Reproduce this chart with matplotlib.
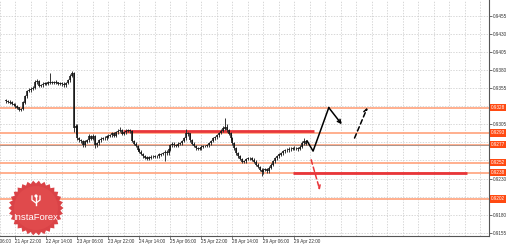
import numpy as np
import matplotlib
matplotlib.use("Agg")
import matplotlib.pyplot as plt
from matplotlib.patches import Polygon

plt.rcParams['font.family'] = ['Liberation Sans', 'DejaVu Sans']

# hourly bars, index 0 = 21 Apr 22:00, first visible bar at -5
first_bar = -5
first_open = 0.9338
close = [0.9337, 0.9336, 0.9335, 0.9333, 0.9332, 0.9330, 0.9328, 0.9325, 0.9326, 0.9335,
         0.9344, 0.9351, 0.9352, 0.9354, 0.9355, 0.9363, 0.9365, 0.9358, 0.9359, 0.9361,
         0.9362, 0.9361, 0.9363, 0.9362, 0.9363, 0.9362, 0.9363, 0.9361, 0.9362, 0.9361,
         0.9359, 0.9362, 0.9366, 0.9372, 0.9375, 0.9300, 0.9303, 0.9286, 0.9283, 0.9282,
         0.9276, 0.9281, 0.9283, 0.9288, 0.9285, 0.9289, 0.9276, 0.9279, 0.9283, 0.9285,
         0.9286, 0.9286, 0.9288, 0.9289, 0.9290, 0.9292, 0.9289, 0.9294, 0.9296, 0.9297,
         0.9292, 0.9294, 0.9296, 0.9297, 0.9296, 0.9282, 0.9278, 0.9275, 0.9270, 0.9267,
         0.9264, 0.9261, 0.9259, 0.9257, 0.9259, 0.9260, 0.9260, 0.9261, 0.9261, 0.9263,
         0.9264, 0.9265, 0.9267, 0.9265, 0.9270, 0.9276, 0.9278, 0.9276, 0.9275, 0.9278,
         0.9279, 0.9282, 0.9286, 0.9293, 0.9292, 0.9283, 0.9278, 0.9275, 0.9272, 0.9271,
         0.9272, 0.9274, 0.9275, 0.9275, 0.9276, 0.9279, 0.9282, 0.9286, 0.9287, 0.9290,
         0.9293, 0.9296, 0.9299, 0.9301, 0.9297, 0.9292, 0.9286, 0.9279, 0.9272, 0.9265,
         0.9261, 0.9257, 0.9253, 0.9254, 0.9257, 0.9258, 0.9258, 0.9256, 0.9253, 0.9249,
         0.9246, 0.9242, 0.9239, 0.9242, 0.9243, 0.9240, 0.9245, 0.9249, 0.9254, 0.9258,
         0.9261, 0.9263, 0.9265, 0.9268, 0.9269, 0.9269, 0.9271, 0.9271, 0.9272, 0.9272,
         0.9272, 0.9271, 0.9274, 0.9279, 0.9282, 0.9278]
high = [0.9340, 0.9339, 0.9338, 0.9337, 0.9335, 0.9334, 0.9332, 0.9329, 0.9328, 0.9337,
        0.9346, 0.9353, 0.9355, 0.9356, 0.9358, 0.9366, 0.9367, 0.9366, 0.9361, 0.9363,
        0.9364, 0.9364, 0.9365, 0.9376, 0.9365, 0.9365, 0.9366, 0.9364, 0.9364, 0.9364,
        0.9363, 0.9364, 0.9368, 0.9374, 0.9378, 0.9377, 0.9306, 0.9305, 0.9288, 0.9285,
        0.9284, 0.9283, 0.9285, 0.9291, 0.9290, 0.9291, 0.9290, 0.9281, 0.9285, 0.9287,
        0.9288, 0.9289, 0.9290, 0.9291, 0.9292, 0.9294, 0.9294, 0.9296, 0.9299, 0.9301,
        0.9299, 0.9296, 0.9298, 0.9299, 0.9299, 0.9297, 0.9284, 0.9280, 0.9277, 0.9272,
        0.9269, 0.9266, 0.9263, 0.9261, 0.9261, 0.9262, 0.9262, 0.9263, 0.9263, 0.9265,
        0.9266, 0.9267, 0.9269, 0.9269, 0.9272, 0.9278, 0.9280, 0.9280, 0.9278, 0.9280,
        0.9281, 0.9284, 0.9288, 0.9298, 0.9295, 0.9293, 0.9285, 0.9280, 0.9277, 0.9274,
        0.9274, 0.9276, 0.9277, 0.9277, 0.9278, 0.9281, 0.9284, 0.9288, 0.9289, 0.9292,
        0.9295, 0.9298, 0.9302, 0.9314, 0.9305, 0.9299, 0.9294, 0.9288, 0.9281, 0.9274,
        0.9267, 0.9263, 0.9259, 0.9256, 0.9259, 0.9260, 0.9260, 0.9260, 0.9258, 0.9255,
        0.9251, 0.9248, 0.9244, 0.9244, 0.9245, 0.9245, 0.9247, 0.9251, 0.9256, 0.9260,
        0.9263, 0.9265, 0.9267, 0.9270, 0.9271, 0.9272, 0.9273, 0.9273, 0.9274, 0.9275,
        0.9274, 0.9274, 0.9276, 0.9282, 0.9286, 0.9284]
low = [0.9335, 0.9334, 0.9333, 0.9331, 0.9330, 0.9328, 0.9326, 0.9323, 0.9323, 0.9325,
       0.9333, 0.9342, 0.9349, 0.9350, 0.9352, 0.9354, 0.9361, 0.9356, 0.9356, 0.9357,
       0.9359, 0.9359, 0.9359, 0.9360, 0.9360, 0.9360, 0.9360, 0.9359, 0.9359, 0.9358,
       0.9357, 0.9357, 0.9360, 0.9364, 0.9370, 0.9295, 0.9292, 0.9284, 0.9280, 0.9279,
       0.9273, 0.9274, 0.9279, 0.9281, 0.9283, 0.9283, 0.9272, 0.9274, 0.9277, 0.9281,
       0.9283, 0.9284, 0.9284, 0.9286, 0.9287, 0.9288, 0.9287, 0.9287, 0.9292, 0.9294,
       0.9290, 0.9290, 0.9292, 0.9294, 0.9293, 0.9280, 0.9276, 0.9273, 0.9268, 0.9265,
       0.9262, 0.9259, 0.9257, 0.9255, 0.9255, 0.9257, 0.9258, 0.9258, 0.9259, 0.9259,
       0.9261, 0.9262, 0.9254, 0.9263, 0.9263, 0.9268, 0.9274, 0.9274, 0.9273, 0.9273,
       0.9276, 0.9277, 0.9280, 0.9284, 0.9289, 0.9281, 0.9276, 0.9273, 0.9270, 0.9269,
       0.9269, 0.9270, 0.9272, 0.9273, 0.9273, 0.9274, 0.9277, 0.9280, 0.9284, 0.9285,
       0.9288, 0.9291, 0.9294, 0.9297, 0.9295, 0.9290, 0.9284, 0.9277, 0.9270, 0.9263,
       0.9259, 0.9255, 0.9251, 0.9251, 0.9252, 0.9255, 0.9256, 0.9254, 0.9251, 0.9247,
       0.9244, 0.9240, 0.9234, 0.9237, 0.9240, 0.9238, 0.9238, 0.9243, 0.9247, 0.9252,
       0.9256, 0.9259, 0.9261, 0.9263, 0.9266, 0.9267, 0.9267, 0.9268, 0.9269, 0.9270,
       0.9269, 0.9268, 0.9269, 0.9272, 0.9277, 0.9276]

# horizontal levels (orange) and their price tags
levels = [0.9328, 0.9293, 0.9277, 0.9252, 0.9238, 0.9202]
level_tags = ["0.9328", "0.9293", "0.9277", "0.9252", "0.9238", "0.9202"]

# red levels: (price, start bar, end bar)
red_levels = [(0.9296, 55.6, 154.0), (0.9238, 143.4, 233.0)]

# forecast paths (bar, price)
path_up = [(150.5, 0.9282), (153.6, 0.9268), (161.7, 0.9328), (168.4, 0.9305)]
path_up2 = [(175.0, 0.9286), (181.6, 0.9328)]
path_down = [(152.6, 0.9256), (157.1, 0.9214)]

date_ticks = [-16, 0, 16, 32, 48, 64, 80, 96, 112, 128, 144]
date_labels = ["21 Apr 06:00", "21 Apr 22:00", "22 Apr 14:00", "23 Apr 06:00", "23 Apr 22:00",
               "24 Apr 14:00", "25 Apr 06:00", "25 Apr 22:00", "28 Apr 14:00", "29 Apr 06:00",
               "29 Apr 22:00"]
price_ticks = [0.9155, 0.9180, 0.9205, 0.9230, 0.9255, 0.9280, 0.9305, 0.9330, 0.9355,
               0.9380, 0.9405, 0.9430, 0.9455]
# these labels sit under the level tags and are not visible
hidden_ticks = [0.9255, 0.9280, 0.9330]

fig = plt.figure(figsize=(5.10, 2.46), dpi=100)
ax = fig.add_axes([0, 10 / 246, 489 / 510, 236 / 246])
ax.set_xlim(-5.1, 244.4)
ax.set_ylim(0.91507, 0.94767)

# grid
ax.set_xticks(np.arange(-8, 245, 8))
ax.set_xticklabels([])
ax.tick_params(axis='x', length=0)
ax.yaxis.tick_right()
ax.set_yticks(price_ticks)
ax.set_yticklabels(["" if p in hidden_ticks else f"{p:.4f}" for p in price_ticks])
ax.tick_params(axis='y', length=2, width=0.5, pad=1, labelsize=3.3, colors='#333333')
ax.grid(True, color='#c8c8c8', linestyle=(0, (2, 2)), linewidth=0.5)
for s in ['top', 'left']:
    ax.spines[s].set_visible(False)
for s in ['right', 'bottom']:
    ax.spines[s].set_color('#555555')
    ax.spines[s].set_linewidth(0.8)

# levels
for lv in levels:
    ax.axhline(lv, color='#ffa27c', linewidth=1.2, zorder=2)
ax.axhline(0.9276, color='#8a8a8a', linewidth=0.5, zorder=2)
for price, x0, x1 in red_levels:
    ax.plot([x0, x1], [price, price], color='#e8363a', linewidth=2.0, solid_capstyle='butt', zorder=3)

# bars
bars = np.arange(len(close)) + first_bar
opens = [first_open] + close[:-1]
ax.vlines(bars, low, high, color='#333333', linewidth=0.7, zorder=4)
ax.vlines(bars, np.minimum(opens, close), np.maximum(opens, close) + 0.00003,
          color='#111111', linewidth=1.1, zorder=4)

# forecast arrows
px, py = zip(*path_up)
ax.plot(px[:-1], py[:-1], color='black', linewidth=1.1, zorder=5)
ax.annotate("", xy=path_up[-1], xytext=path_up[-2],
            arrowprops=dict(arrowstyle='->', color='black', lw=1.1, shrinkA=0, shrinkB=0,
                            mutation_scale=6))
ax.annotate("", xy=path_up2[1], xytext=path_up2[0],
            arrowprops=dict(arrowstyle='->', color='black', lw=1.1, linestyle=(0, (3, 2)),
                            shrinkA=0, shrinkB=0, mutation_scale=6))
ax.annotate("", xy=path_down[1], xytext=path_down[0],
            arrowprops=dict(arrowstyle='->', color='#e8363a', lw=1.1, linestyle=(0, (3, 2)),
                            shrinkA=0, shrinkB=0, mutation_scale=6))

# date labels
for t, lab in zip(date_ticks, date_labels):
    ax.text(t, -0.012, lab, transform=ax.get_xaxis_transform(), ha='left', va='top',
            fontsize=3.3, color='#333333', clip_on=False)
    ax.plot([t, t], [0, -0.012], transform=ax.get_xaxis_transform(), color='#555555',
            linewidth=0.5, clip_on=False)

# price tags
for lv, tag in zip(levels, level_tags):
    ax.text(1.004, lv, tag, transform=ax.get_yaxis_transform(), ha='left', va='center',
            fontsize=3.3, color='white', zorder=10, clip_on=False,
            bbox=dict(boxstyle='square,pad=0.25', fc='#ff4a12', ec='none'))

# InstaForex logo
lax = fig.add_axes([(36 - 30) / 510, (246 - 208 - 30) / 246, 60 / 510, 60 / 246])
lax.set_xlim(-30, 30)
lax.set_ylim(-30, 30)
lax.axis('off')
n = 30
ang = np.linspace(0, 2 * np.pi, 2 * n, endpoint=False)
rad = np.where(np.arange(2 * n) % 2 == 0, 27.5, 24.5)
lax.add_patch(Polygon(np.c_[rad * np.cos(ang), rad * np.sin(ang)], closed=True,
                      fc='#d8393d', ec='none', alpha=0.95))
circ = plt.Circle((0, 0), 22, fc='#e04a4c', ec='none')
lax.add_patch(circ)
lax.text(0, -9, "InstaForex", ha='center', va='center', fontsize=6.8, color='white')
lax.plot([0, 0], [3, 12], color='white', linewidth=1.0)
lax.plot([-4, -4, 0, 4, 4], [12, 8, 5, 8, 12], color='white', linewidth=0.9)
lax.add_patch(plt.Circle((0, 12), 1.6, fc='white', ec='none'))

fig.savefig("out.png", dpi=100)
